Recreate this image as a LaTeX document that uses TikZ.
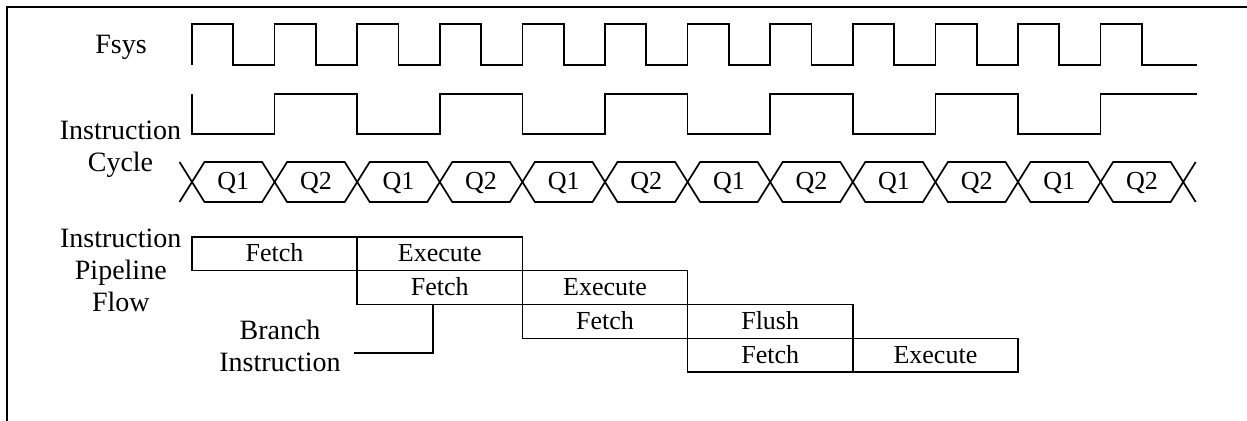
\documentclass[tikz,border=0pt]{standalone}
\usepackage{fontspec}
\setmainfont{Liberation Serif}
\usetikzlibrary{positioning}
\begin{document}
\begin{tikzpicture}
[x=0.5pt, y=-0.5pt, line width=0.85pt,
       font=\fontsize{14}{16}\selectfont,
       stage/.style={draw, outer sep=0pt, inner sep=0pt, minimum width=82.6pt,
                     minimum height=16.95pt, font=\fontsize{13}{15}\selectfont,
                     text height=8pt, text depth=0pt},
       qtext/.style={inner sep=0pt, font=\fontsize{13}{15}\selectfont,
                     text height=8pt, text depth=0pt}]
  \useasboundingbox (0,0) rectangle (1247,421);
  \draw[line width=1.3pt] (1247,7) -- (7,7) -- (7,421); % frame
  % labels
  \node[anchor=base] (fsys) at (121,53.3) {Fsys};
  \node[align=center] (icycle) at (120.5,149.5) {Instruction\\Cycle};
  \node[align=center] (iflow) at (120.8,270.4) {Instruction\\Pipeline\\Flow};
  \node[align=center] (branch) at (280,346.4) {Branch\\Instruction};
  % Fsys
  \draw (192,65) \foreach \i in {1,...,12} { -- ++(0,-41) -- ++(41.3,0) -- ++(0,41) -- ++(41.3,0) } -- (1197,65);
  % instruction cycle
  \draw (192,94) -- ++(0,40) -- ++(82.6,0)
     \foreach \i in {1,...,5} { -- ++(0,-40) -- ++(82.6,0) -- ++(0,40) -- ++(82.6,0) }
     -- ++(0,-40) -- (1197,94);
  % Q1 / Q2
  \foreach \i in {0,...,11} {
    \pgfmathsetmacro\xa{192+\i*82.6}
    \pgfmathtruncatemacro\qn{mod(\i,2)+1}
    \draw (\xa,182) -- ++(12.5,-20) -- ++(57.6,0) -- ++(12.5,20) -- ++(-12.5,20) -- ++(-57.6,0) -- cycle;
    \node[qtext] (q\i) at (\xa+41.3,182) {Q\qn};
  }
  \draw (179.5,162) -- (192,182) -- (179.5,202);
  \draw (1195.7,162) -- (1183.2,182) -- (1195.7,202);
  % pipeline
  \node[stage, anchor=north west] (f1) at (192,236.7) {Fetch};
  \node[stage, right=0pt of f1] (e1) {Execute};
  \node[stage, below=0pt of e1] (f2) {Fetch};
  \node[stage, right=0pt of f2] (e2) {Execute};
  \node[stage, below=0pt of e2] (f3) {Fetch};
  \node[stage, right=0pt of f3] (fl3) {Flush};
  \node[stage, below=0pt of fl3] (f4) {Fetch};
  \node[stage, right=0pt of f4] (e4) {Execute};
  \coordinate (btail) at (354,352.7);
  \draw (btail) -| ([xshift=-3.5pt]f2.south);
\end{tikzpicture}
\end{document}
